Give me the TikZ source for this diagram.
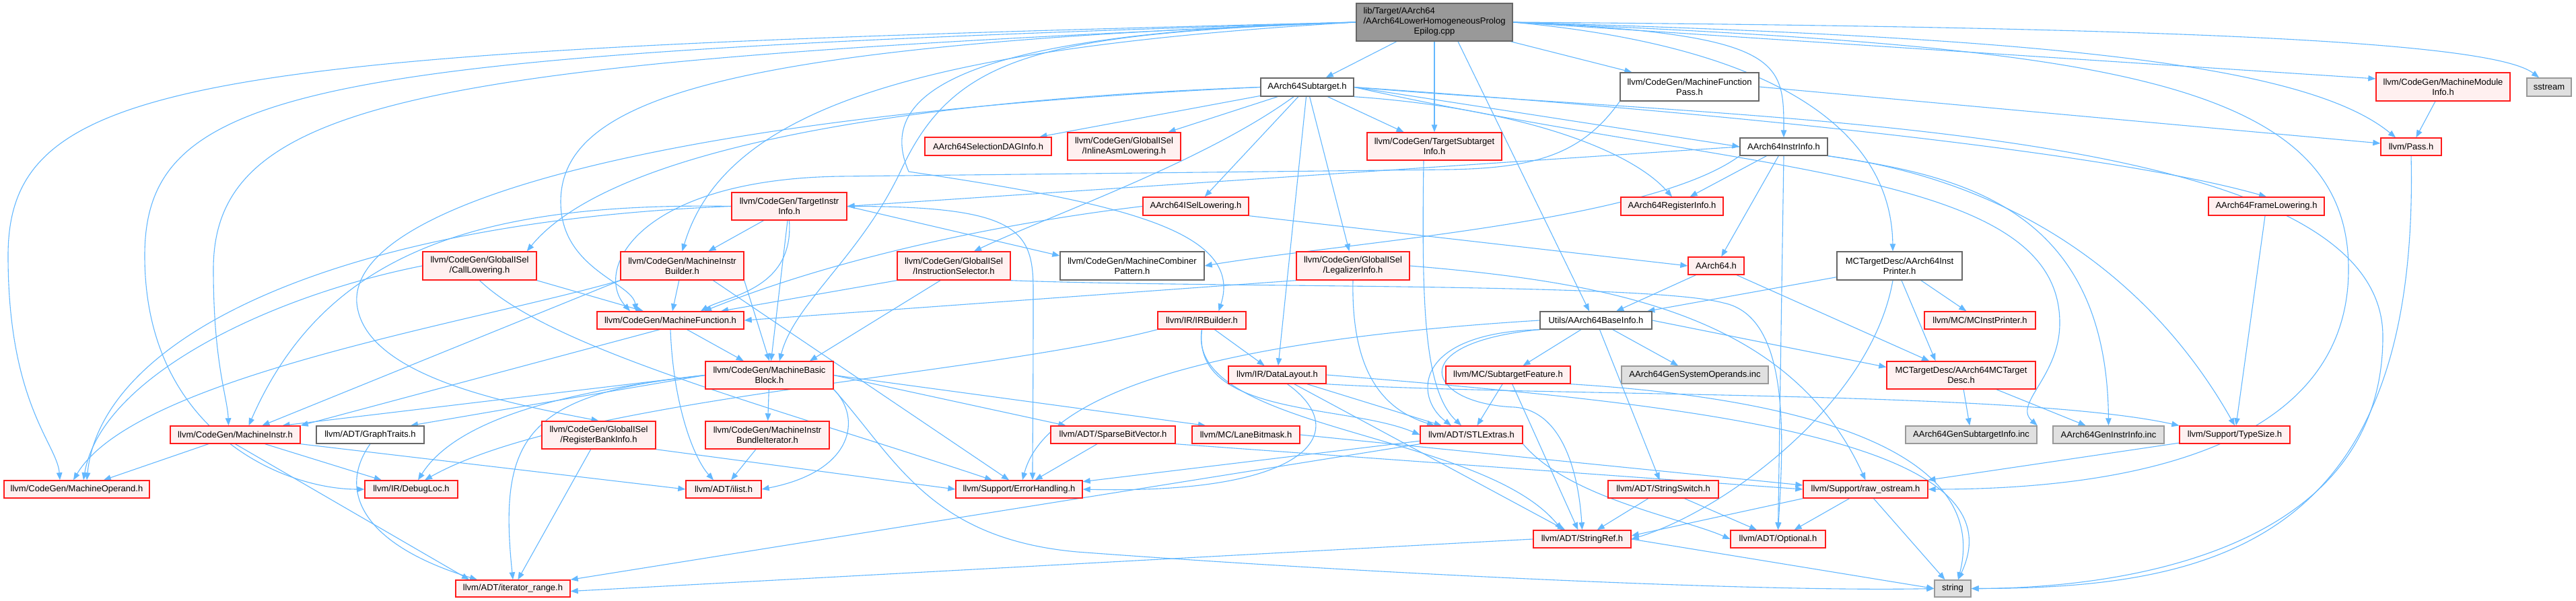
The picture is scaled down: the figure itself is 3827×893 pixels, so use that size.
\documentclass[tikz,border=0pt]{standalone}
\usepackage{fontspec}
\setmainfont{Liberation Sans}
\usetikzlibrary{arrows.meta}
\definecolor{edgeblue}{HTML}{63B8FF}
\definecolor{trunkred}{HTML}{FF1A1A}
\definecolor{trunkfill}{HTML}{FFF0F0}
\definecolor{plainline}{HTML}{666666}
\definecolor{sysfill}{HTML}{E0E0E0}
\definecolor{sysline}{HTML}{999999}
\definecolor{rootfill}{HTML}{999999}
\pgfdeclarelayer{paper}
\pgfdeclarelayer{wires}
\pgfsetlayers{paper,wires,main}
\tikzset{wh/.style 2 args={minimum width=#1pt, minimum height=#2pt}}

\begin{document}
\begin{tikzpicture}[
  x=1pt,
  y=-1pt,
  every node/.style={font=\fontsize{13}{15}\selectfont, text=black, inner sep=0pt, align=center},
  redbox/.style={draw=trunkred, fill=trunkfill, line width=1.4pt},
  plainbox/.style={draw=plainline, fill=white, line width=1.4pt},
  sysbox/.style={draw=sysline, fill=sysfill, line width=1.4pt},
  rootbox/.style={draw=plainline, fill=rootfill, line width=1.4pt},
  dep/.style={edgeblue, line width=1.1pt, -{Triangle[length=11pt, width=8.5pt]}}
]
  % ---- page -------------------------------------------------------------
  \useasboundingbox (0,0) rectangle (3827,893);
  \begin{pgfonlayer}{paper}
    \fill[white] (0,0) rectangle (3827,893);
  \end{pgfonlayer}

  % ---- row 1 -------------------------------------------------------------
  \node[rootbox, wh={232}{56}] (root) at (2131,33)
    {\begin{tabular}{@{}l@{}}lib/Target/AArch64\\/AArch64LowerHomogeneousProlog\\\multicolumn{1}{@{}c@{}}{Epilog.cpp}\end{tabular}};

  % ---- row 2 -------------------------------------------------------------
  \node[plainbox, wh={138}{27}] (subtarget) at (1942,129.5) {AArch64Subtarget.h};
  \node[plainbox, wh={206}{42}] (mfpass) at (2510,129) {llvm/CodeGen/MachineFunction\\Pass.h};
  \node[redbox, wh={199}{42}] (mmi) at (3629.5,129) {llvm/CodeGen/MachineModule\\Info.h};
  \node[sysbox, wh={66}{27}] (sstream) at (3787,129.5) {sstream};

  % ---- row 3 -------------------------------------------------------------
  \node[redbox, wh={188}{27}] (sdag) at (1468,217.5) {AArch64SelectionDAGInfo.h};
  \node[redbox, wh={168}{41}] (inlineasm) at (1670,217.5) {llvm/CodeGen/GlobalISel\\/InlineAsmLowering.h};
  \node[redbox, wh={200}{41}] (tsi) at (2131,217.5) {llvm/CodeGen/TargetSubtarget\\Info.h};
  \node[plainbox, wh={130}{26}] (instrinfo) at (2650,218) {AArch64InstrInfo.h};
  \node[redbox, wh={90}{26}] (pass) at (3582,218) {llvm/Pass.h};

  % ---- row 4 -------------------------------------------------------------
  \node[redbox, wh={171}{41}] (tii) at (1172.5,306.5) {llvm/CodeGen/TargetInstr\\Info.h};
  \node[redbox, wh={157}{27}] (isel) at (1776.5,306.5) {AArch64ISelLowering.h};
  \node[redbox, wh={152}{27}] (reginfo) at (2484,306.5) {AArch64RegisterInfo.h};
  \node[redbox, wh={172}{27}] (framelow) at (3367,306.5) {AArch64FrameLowering.h};

  % ---- row 5 -------------------------------------------------------------
  \node[redbox, wh={169}{42}] (calllow) at (712.5,395) {llvm/CodeGen/GlobalISel\\/CallLowering.h};
  \node[redbox, wh={183}{42}] (mib) at (1013.5,395) {llvm/CodeGen/MachineInstr\\Builder.h};
  \node[redbox, wh={168}{42}] (instsel) at (1417,395) {llvm/CodeGen/GlobalISel\\/InstructionSelector.h};
  \node[plainbox, wh={214}{42}] (combiner) at (1682,395) {llvm/CodeGen/MachineCombiner\\Pattern.h};
  \node[redbox, wh={168}{42}] (legal) at (2010,395) {llvm/CodeGen/GlobalISel\\/LegalizerInfo.h};
  \node[redbox, wh={83}{26}] (aarch) at (2549.5,395) {AArch64.h};
  \node[plainbox, wh={186}{42}] (printer) at (2822,395) {MCTargetDesc/AArch64Inst\\Printer.h};

  % ---- row 6 -------------------------------------------------------------
  \node[redbox, wh={218}{26}] (mfunc) at (996,476) {llvm/CodeGen/MachineFunction.h};
  \node[redbox, wh={131}{26}] (irbuilder) at (1785.5,476) {llvm/IR/IRBuilder.h};
  \node[plainbox, wh={166}{26}] (baseinfo) at (2371,476) {Utils/AArch64BaseInfo.h};
  \node[redbox, wh={165}{26}] (mcprinter) at (2941.5,476) {llvm/MC/MCInstPrinter.h};

  % ---- row 7 -------------------------------------------------------------
  \node[redbox, wh={190}{41}] (mbb) at (1143,557.5) {llvm/CodeGen/MachineBasic\\Block.h};
  \node[redbox, wh={145}{26}] (layout) at (1897.5,557) {llvm/IR/DataLayout.h};
  \node[redbox, wh={185}{26}] (feature) at (2240.5,557) {llvm/MC/SubtargetFeature.h};
  \node[sysbox, wh={218}{26}] (sysops) at (2518,557) {AArch64GenSystemOperands.inc};
  \node[redbox, wh={221}{41}] (mcdesc) at (2913.5,557.5) {MCTargetDesc/AArch64MCTarget\\Desc.h};

  % ---- row 8 -------------------------------------------------------------
  \node[redbox, wh={193}{26}] (minstr) at (349.5,646) {llvm/CodeGen/MachineInstr.h};
  \node[plainbox, wh={160}{26}] (graph) at (550,646) {llvm/ADT/GraphTraits.h};
  \node[redbox, wh={169}{41}] (regbank) at (889.5,646.5) {llvm/CodeGen/GlobalISel\\/RegisterBankInfo.h};
  \node[redbox, wh={184}{41}] (bundle) at (1140,646.5) {llvm/CodeGen/MachineInstr\\BundleIterator.h};
  \node[redbox, wh={185}{26}] (sparse) at (1653.5,646) {llvm/ADT/SparseBitVector.h};
  \node[redbox, wh={160}{26}] (lanemask) at (1851,646) {llvm/MC/LaneBitmask.h};
  \node[redbox, wh={152}{26}] (stlextras) at (2186,646) {llvm/ADT/STLExtras.h};
  \node[sysbox, wh={195}{26}] (gensub) at (2928.5,646) {AArch64GenSubtargetInfo.inc};
  \node[sysbox, wh={165}{26}] (geninstr) at (3132.5,646) {AArch64GenInstrInfo.inc};
  \node[redbox, wh={164}{26}] (typesize) at (3320,646) {llvm/Support/TypeSize.h};

  % ---- rows 9 to 11 ------------------------------------------------------
  \node[redbox, wh={216}{26}] (moperand) at (114,727) {llvm/CodeGen/MachineOperand.h};
  \node[redbox, wh={138}{26}] (debugloc) at (611,727) {llvm/IR/DebugLoc.h};
  \node[redbox, wh={112}{26}] (ilist) at (1075,727) {llvm/ADT/ilist.h};
  \node[redbox, wh={188}{26}] (errh) at (1514,727) {llvm/Support/ErrorHandling.h};
  \node[redbox, wh={164}{26}] (strswitch) at (2471,727) {llvm/ADT/StringSwitch.h};
  \node[redbox, wh={185}{26}] (ostream) at (2771.5,727) {llvm/Support/raw\_ostream.h};
  \node[redbox, wh={145}{26}] (strref) at (2350.5,801) {llvm/ADT/StringRef.h};
  \node[redbox, wh={141}{26}] (optional) at (2641.5,801) {llvm/ADT/Optional.h};
  \node[redbox, wh={170}{25}] (itrange) at (762,874.5) {llvm/ADT/iterator\_range.h};
  \node[sysbox, wh={54}{25}] (string) at (2901,874.5) {string};

  \begin{pgfonlayer}{wires}
  % ---- includes of the .cpp file -------------------------------------------
  \draw[dep] (root.west) .. controls (300,75) and (12,110) .. (12,380) .. controls (12,600) and (85,660) .. ([xshift=-25pt]moperand.north);
  \draw[dep] (root.west) .. controls (480,80) and (215,120) .. (215,380) .. controls (215,640) and (420,727) .. (debugloc.west);
  \draw[dep] (root.west) .. controls (650,90) and (317,140) .. (317,400) .. controls (317,540) and (338,590) .. ([xshift=-10pt]minstr.north);
  \draw[dep] (root.west) .. controls (1100,65) and (833,140) .. (833,300) .. controls (833,400) and (940,420) .. ([xshift=-51pt]mfunc.north);
  \draw[dep] (root.west) .. controls (1400,70) and (1080,150) .. (mib.north);
  \draw[dep] (root.west) .. controls (1550,50) and (1420,80) .. (1340,250) .. controls (1280,380) and (1180,450) .. ([xshift=15pt]mbb.north);
  \draw[dep] (root.west) .. controls (1420,48) and (1300,140) .. (1350,255) .. controls (1650,300) and (1850,340) .. ([xshift=25pt]irbuilder.north);
  \draw[dep] (root.south) -- (tsi.north);
  \draw[dep] (root) -- (subtarget);
  \draw[dep] (root) -- (mfpass);
  \draw[dep] (root.east) .. controls (2650,50) and (2650,90) .. (instrinfo.north);
  \draw[dep] (root.east) -- ([yshift=12pt]mmi.west);
  \draw[dep] (root.east) .. controls (3200,40) and (3700,60) .. ([xshift=-15pt]sstream.north);
  \draw[dep] (root.east) .. controls (3000,55) and (3420,90) .. ([xshift=-23pt]pass.north);
  \draw[dep] (root.east) .. controls (3100,70) and (3489,110) .. (3489,400) .. controls (3489,690) and (3100,727) .. (ostream.east);
  \draw[dep] (root.east) .. controls (2650,70) and (2810,200) .. ([xshift=-10pt]printer.north);
  \draw[dep] ([xshift=35pt]root.south) -- ([xshift=-10pt]baseinfo.north);

  % ---- AArch64Subtarget.h ------------------------------------------------
  \draw[dep] (subtarget.east) .. controls (2600,170) and (3150,230) .. (framelow.north);
  \draw[dep] (subtarget) -- (isel);
  \draw[dep] (subtarget.east) -- (instrinfo.west);
  \draw[dep] (subtarget.south east) .. controls (2250,160) and (2420,220) .. (reginfo.north);
  \draw[dep] (subtarget) -- (sdag);
  \draw[dep] (subtarget.west) .. controls (1300,150) and (900,230) .. ([xshift=-15pt]calllow.north east);
  \draw[dep] (subtarget) -- (inlineasm);
  \draw[dep] ([xshift=-20pt]subtarget.south) .. controls (1790,240) and (1560,320) .. ([xshift=30pt]instsel.north);
  \draw[dep] (subtarget) -- (legal);
  \draw[dep] (subtarget.west) .. controls (1000,170) and (520,300) .. (530,450) .. controls (540,560) and (760,600) .. (regbank.north);
  \draw[dep] (subtarget) -- (tsi);
  \draw[dep] (subtarget) -- (layout);
  \draw[dep] (subtarget.east) .. controls (2600,180) and (3540,180) .. (3540,500) .. controls (3540,820) and (3150,874) .. (string.east);
  \draw[dep] (subtarget.east) .. controls (2600,260) and (3060,250) .. (3060,480) .. controls (3060,560) and (2990,600) .. (gensub.north east);

  % ---- AArch64InstrInfo.h ------------------------------------------------
  \draw[dep] (instrinfo) -- (aarch);
  \draw[dep] (instrinfo) -- (reginfo);
  \draw[dep] (instrinfo.south) -- (optional.north);
  \draw[dep] (instrinfo.south west) .. controls (2450,330) and (2000,360) .. (combiner.east);
  \draw[dep] (instrinfo.west) -- (tii.east);
  \draw[dep] (instrinfo.south east) .. controls (3000,270) and (3200,420) .. (typesize.north);
  \draw[dep] (instrinfo.south east) .. controls (2900,260) and (3130,300) .. (geninstr.north);

  % ---- target headers ----------------------------------------------------
  \draw[dep] (aarch) -- (mcdesc);
  \draw[dep] (aarch) -- (baseinfo);
  \draw[dep] ([xshift=3pt]printer.south) -- ([xshift=-38pt]mcdesc.north);
  \draw[dep] ([xshift=-10pt]printer.south) .. controls (2780,600) and (2560,760) .. (strref.east);
  \draw[dep] (printer) -- (mcprinter);
  \draw[dep] (printer) -- (baseinfo);
  \draw[dep] (baseinfo.east) -- ([yshift=12pt]mcdesc.west);
  \draw[dep] (baseinfo.south west) .. controls (2100,495) and (2100,590) .. ([xshift=-30pt]stlextras.north);
  \draw[dep] (baseinfo.south west) .. controls (2080,510) and (2120,600) .. (2250,605) .. controls (2320,610) and (2345,700) .. (strref.north);
  \draw[dep] (baseinfo) -- (strswitch);
  \draw[dep] (baseinfo) -- (feature);
  \draw[dep] (baseinfo.west) .. controls (1900,500) and (1560,560) .. ([xshift=5pt]errh.north);
  \draw[dep] (baseinfo) -- (sysops);
  \draw[dep] (mcdesc) -- (gensub);
  \draw[dep] (mcdesc) -- (geninstr);
  \draw[dep] (isel.south east) -- (aarch.west);
  \draw[dep] (isel.west) .. controls (1500,330) and (1250,380) .. ([xshift=50pt]mfunc.north);
  \draw[dep] (framelow) -- (typesize);
  \draw[dep] ([xshift=-16pt]tsi.south) .. controls (2112,450) and (2115,580) .. ([xshift=-15pt]stlextras.north);

  % ---- support headers ---------------------------------------------------
  \draw[dep] (feature) -- (stlextras);
  \draw[dep] (feature) -- (strref);
  \draw[dep] (feature.south east) .. controls (2650,590) and (2960,660) .. ([xshift=8pt]string.north);
  \draw[dep] (layout) -- (stlextras);
  \draw[dep] (layout) -- (strref);
  \draw[dep] ([xshift=15pt]layout.south) .. controls (2010,640) and (1950,735) .. (errh.east);
  \draw[dep] (layout.south east) .. controls (2300,590) and (3000,580) .. (typesize.north west);
  \draw[dep] (layout.east) .. controls (2500,600) and (3010,650) .. ([xshift=8pt]string.north);
  \draw[dep] (irbuilder) -- (layout);
  \draw[dep] (irbuilder.south west) .. controls (1450,560) and (850,590) .. ([xshift=20pt]debugloc.north);
  \draw[dep] (irbuilder.south) .. controls (1770,620) and (2000,600) .. (stlextras.west);
  \draw[dep] (irbuilder.south) .. controls (1760,640) and (2200,640) .. ([xshift=-30pt]strref.north);
  \draw[dep] (stlextras) -- (errh);
  \draw[dep] (stlextras.south west) -- (itrange.north east);
  \draw[dep] (stlextras.south east) .. controls (2330,740) and (2500,770) .. (optional.west);
  \draw[dep] (strswitch) -- (strref);
  \draw[dep] (strswitch) -- (optional);
  \draw[dep] (strref.west) -- ([yshift=-4pt]itrange.east);
  \draw[dep] (strref.east) -- (string.west);
  \draw[dep] (ostream.south west) -- ([yshift=5pt]strref.east);
  \draw[dep] (ostream) -- (optional);
  \draw[dep] (ostream) -- (string);
  \draw[dep] (typesize) -- (ostream);
  \draw[dep] (sparse) -- (errh);
  \draw[dep] (sparse.south east) -- (ostream.west);
  \draw[dep] (lanemask.east) -- ([yshift=6pt]ostream.west);

  % ---- CodeGen headers ---------------------------------------------------
  \draw[dep] (mfpass.south west) .. controls (2350,230) and (2280,250) .. (2150,252) -- (1250,262) .. controls (950,266) and (880,400) .. ([xshift=-60pt]mfunc.north);
  \draw[dep] (mfpass.east) -- ([yshift=5pt]pass.west);
  \draw[dep] (mmi) -- (pass);
  \draw[dep] (pass.south) .. controls (3595,800) and (3300,874) .. (string.east);
  \draw[dep] (tii) -- (mib);
  \draw[dep] (tii.south) .. controls (1180,430) and (1080,440) .. ([xshift=45pt]mfunc.north);
  \draw[dep] (tii) -- (mbb);
  \draw[dep] (tii.west) .. controls (700,300) and (480,380) .. ([xshift=20pt]minstr.north);
  \draw[dep] (tii.west) .. controls (500,330) and (150,500) .. ([xshift=15pt]moperand.north);
  \draw[dep] (tii.east) -- ([yshift=15pt]combiner.west);
  \draw[dep] (tii.east) .. controls (1510,306) and (1535,340) .. (1535,430) .. controls (1535,600) and (1534,650) .. ([xshift=20pt]errh.north);
  \draw[dep] (mib) -- (mfunc);
  \draw[dep] (mib.south east) -- (mbb.north);
  \draw[dep] (mib.south west) -- ([xshift=40pt]minstr.north);
  \draw[dep] (mib.south west) .. controls (700,480) and (200,560) .. ([xshift=-5pt]moperand.north);
  \draw[dep] ([xshift=46pt]mib.south) -- ([xshift=-15pt]errh.north);
  \draw[dep] (calllow.west) .. controls (400,440) and (150,560) .. ([xshift=10pt]moperand.north);
  \draw[dep] (calllow.south east) -- ([xshift=-40pt]mfunc.north);
  \draw[dep] (calllow.south) .. controls (820,520) and (1150,605) .. ([xshift=-40pt]errh.north);
  \draw[dep] (instsel.south west) -- ([xshift=75pt]mfunc.north);
  \draw[dep] ([xshift=-20pt]instsel.south) -- ([xshift=60pt]mbb.north);
  \draw[dep] (instsel.south east) .. controls (1800,428) and (2450,420) .. (2560,450) .. controls (2660,470) and (2650,650) .. (optional.north);
  \draw[dep] (legal.south west) -- (mfunc.east);
  \draw[dep] (legal.south) .. controls (2007,560) and (2060,610) .. ([xshift=-55pt]stlextras.north);
  \draw[dep] (legal.east) .. controls (2400,420) and (2660,470) .. (ostream.north);
  \draw[dep] (regbank) -- (itrange);
  \draw[dep] (regbank.south east) -- (errh.west);
  \draw[dep] (mfunc) -- (mbb);
  \draw[dep] (mfunc.south) .. controls (1000,600) and (1030,680) .. ([xshift=-15pt]ilist.north);
  \draw[dep] ([xshift=-16pt]mfunc.south) -- (minstr.north east);
  \draw[dep] (mbb.west) -- ([xshift=70pt]minstr.north);
  \draw[dep] (mbb.west) -- ([xshift=60pt]graph.north);
  \draw[dep] (mbb.west) .. controls (850,580) and (680,620) .. ([xshift=10pt]debugloc.north);
  \draw[dep] (mbb) -- (bundle);
  \draw[dep] (mbb.south east) .. controls (1280,620) and (1270,700) .. (ilist.east);
  \draw[dep] (mbb.west) .. controls (780,585) and (740,650) .. (itrange.north);
  \draw[dep] (mbb.east) -- ([xshift=-70pt]sparse.north);
  \draw[dep] (mbb.east) -- ([xshift=-60pt]lanemask.north);
  \draw[dep] (mbb.south east) .. controls (1330,680) and (1380,800) .. (1600,820) .. controls (2000,850) and (2600,880) .. (string.west);
  \draw[dep] (minstr) -- (moperand);
  \draw[dep] (minstr) -- (debugloc);
  \draw[dep] (minstr.south east) -- (ilist.west);
  \draw[dep] (minstr.south) -- ([xshift=-65pt]itrange.north);
  \draw[dep] (bundle) -- (ilist);
  \draw[dep] (graph.south) .. controls (500,730) and (540,810) .. ([xshift=-53pt]itrange.north);
  \end{pgfonlayer}
\end{tikzpicture}
\end{document}
